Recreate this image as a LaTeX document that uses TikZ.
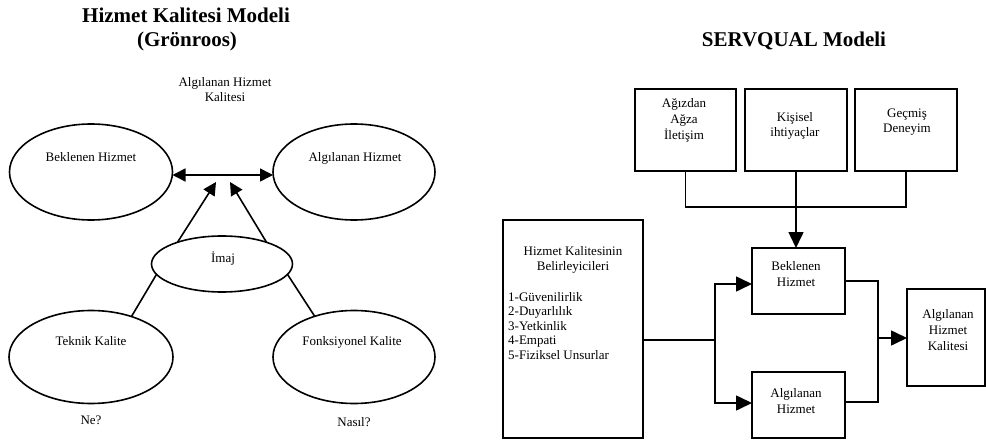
\documentclass[tikz,border=0pt]{standalone}
\usepackage{fontspec}
\setmainfont{Liberation Serif}
\usetikzlibrary{shapes.geometric,arrows.meta}
\tikzset{
  ln/.style={line width=1.6pt},
  ell/.style={ellipse, draw, line width=1.6pt, inner sep=0pt, outer sep=0pt},
  bx/.style={rectangle, draw, line width=1.6pt, inner sep=0pt, outer sep=0pt},
  txt/.style={inner sep=0pt, anchor=base, font=\fontsize{13}{15}\selectfont},
  ttl/.style={inner sep=0pt, anchor=base, font=\fontsize{21}{24}\selectfont\bfseries},
  arL/.style={-{Triangle[length=13pt,width=13pt]}},
  arR/.style={-{Triangle[length=16pt,width=15pt]}}
}
\begin{document}
\begin{tikzpicture}[x=1pt,y=-1pt]
\useasboundingbox (0,0) rectangle (986,441);
% ---------- Left: Grönroos ----------
\node[ttl] (t1) at (186,23) {Hizmet Kalitesi Modeli};
\node[ttl] (t2) at (187,47) {(Grönroos)};
\node[txt] (ahk1) at (225,87) {Algılanan Hizmet};
\node[txt] (ahk2) at (225,102) {Kalitesi};

\node[ell, minimum width=163pt, minimum height=96pt] (bek) at (91,172) {};
\node[ell, minimum width=162pt, minimum height=96pt] (alg) at (354,172) {};
\node[ell, minimum width=141pt, minimum height=56pt] (imaj) at (222,264) {};
\node[ell, minimum width=164pt, minimum height=93pt] (tek) at (91,357) {};
\node[ell, minimum width=162pt, minimum height=93pt] (fon) at (354,357) {};

\node[txt] (bekT) at (91,162) {Beklenen Hizmet};
\node[txt] (algT) at (355,162) {Algılanan Hizmet};
\node[txt] (imajT) at (223,262) {İmaj};
\node[txt] (tekT) at (91,345) {Teknik Kalite};
\node[txt] (fonT) at (352,345) {Fonksiyonel Kalite};
\node[txt] (ne) at (91,424) {Ne?};
\node[txt] (nasil) at (354,426) {Nasıl?};

\coordinate (tipL) at (216,182);
\coordinate (tipR) at (230,182);
\draw[ln, {Triangle[length=13pt,width=13pt]}-{Triangle[length=13pt,width=13pt]}]
  ([yshift=-3pt]bek.east) -- ([yshift=-3pt]alg.west);
\draw[ln, arL] (imaj.154) -- (tipL);
\draw[ln, arL] (imaj.26) -- (tipR);
\draw[ln] (imaj.189) -- (tek.45);
\draw[ln] (imaj.-9) -- (fon.134);

% ---------- Right: SERVQUAL ----------
\node[ttl] (t3) at (794,47) {SERVQUAL Modeli};

\node[bx, minimum width=101pt, minimum height=82pt] (b1) at (685.5,130) {};
\node[bx, minimum width=102pt, minimum height=82pt] (b2) at (796,130) {};
\node[bx, minimum width=102pt, minimum height=82pt] (b3) at (906,130) {};
\node[txt] (b1a) at (684,108) {Ağızdan};
\node[txt] (b1b) at (684,124) {Ağza};
\node[txt] (b1c) at (684,140) {İletişim};
\node[txt] (b2a) at (795,122) {Kişisel};
\node[txt] (b2b) at (795,137) {ihtiyaçlar};
\node[txt] (b3a) at (907,118) {Geçmiş};
\node[txt] (b3b) at (907,133) {Deneyim};

\node[bx, minimum width=140pt, minimum height=218pt] (big) at (573,329) {};
\node[txt] (bg1) at (573,255) {Hizmet Kalitesinin};
\node[txt] (bg2) at (573,270) {Belirleyicileri};
\node[txt, anchor=base west] (l1) at (508,301) {1-Güvenilirlik};
\node[txt, anchor=base west] (l2) at (508,315.5) {2-Duyarlılık};
\node[txt, anchor=base west] (l3) at (508,330) {3-Yetkinlik};
\node[txt, anchor=base west] (l4) at (508,344.5) {4-Empati};
\node[txt, anchor=base west] (l5) at (508,359) {5-Fiziksel Unsurlar};

\node[bx, minimum width=93pt, minimum height=66pt] (bk) at (798.5,281) {};
\node[txt] (bk1) at (796,270) {Beklenen};
\node[txt] (bk2) at (796,286) {Hizmet};
\node[bx, minimum width=93pt, minimum height=66pt] (al) at (798.5,405) {};
\node[txt] (al1) at (796,397) {Algılanan};
\node[txt] (al2) at (796,413) {Hizmet};

\node[bx, minimum width=78pt, minimum height=97pt] (fin) at (946,337.5) {};
\node[txt] (fn1) at (948,318) {Algılanan};
\node[txt] (fn2) at (948,334) {Hizmet};
\node[txt] (fn3) at (948,350) {Kalitesi};

\coordinate (jn) at (796,207);
\draw[ln] (b1.south) |- (jn);
\draw[ln] (b3.south) |- (jn);
\draw[ln, arR] (b2.south) -- (b2.south |- bk.north);

\coordinate (sp) at (715,340);
\draw[ln] (big.east |- sp) -- (sp);
\draw[ln, arR] (sp) |- ([yshift=-3pt]bk.west);
\draw[ln, arR] (sp) |- ([yshift=2pt]al.west);

\coordinate (mg) at (878,338);
\draw[ln] (bk.east) -| (mg);
\draw[ln] ([yshift=3pt]al.east) -| (mg);
\draw[ln, arR] (mg) -- (fin.west |- mg);
\end{tikzpicture}
\end{document}
